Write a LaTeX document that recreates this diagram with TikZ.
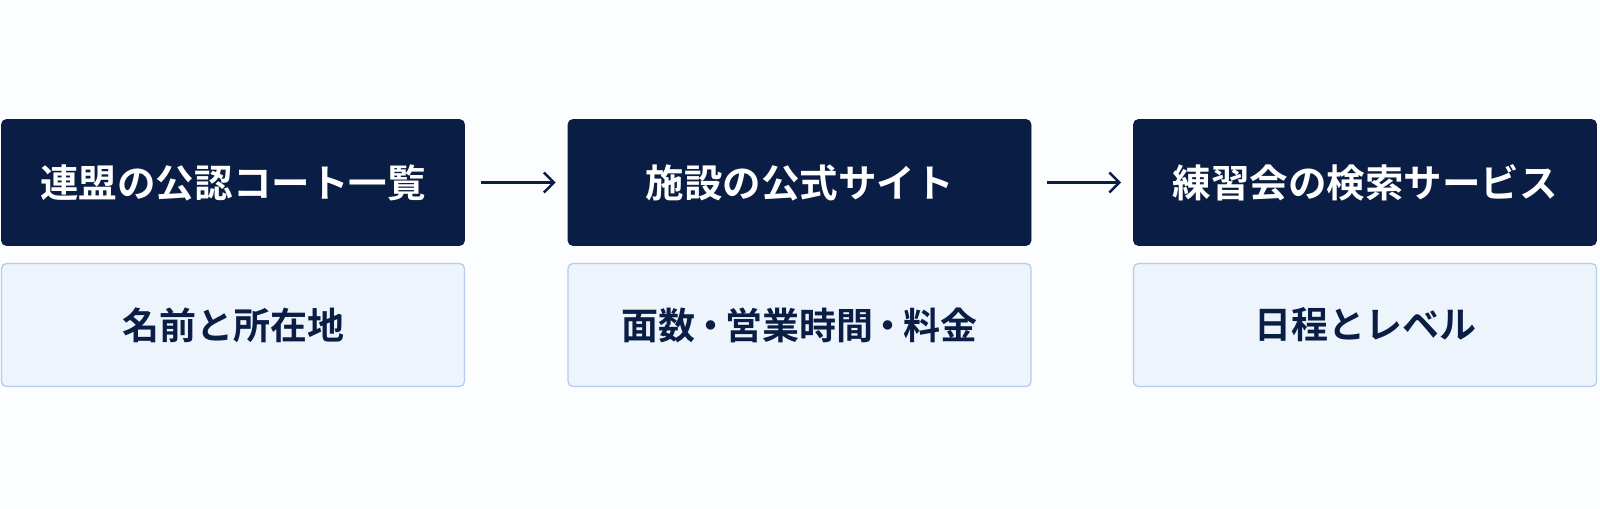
\documentclass[tikz,border=0pt]{standalone}
\usepackage{fontspec}
\newfontfamily\cjk{Noto Sans CJK JP}[BoldFont={Noto Sans CJK JP Bold}]
\usetikzlibrary{arrows.meta}
\definecolor{navy}{HTML}{0A1E45}
\definecolor{lightfill}{HTML}{EEF4FB}
\definecolor{lightborder}{HTML}{B4CDEA}
\definecolor{bg}{HTML}{FCFDFE}
\newcommand{\nakaguro}{\kern-3.7bp・\kern-3.7bp}
\begin{document}
\begin{tikzpicture}[x=1bp,y=-1bp,
  titlebox/.style={draw=navy,fill=navy,rounded corners=5bp,line width=0.8bp,
    minimum width=463bp,minimum height=126bp,inner sep=0pt,
    text=white,font=\cjk\bfseries\fontsize{38.5bp}{46bp}\selectfont},
  detailbox/.style={draw=lightborder,fill=lightfill,rounded corners=5bp,line width=1.3bp,
    minimum width=463bp,minimum height=123bp,inner sep=0pt,
    text=navy,font=\cjk\bfseries\fontsize{37bp}{44bp}\selectfont},
  flow/.style={draw=navy,line width=2.5bp,-{Straight Barb[length=10bp,width=20bp,line width=2.5bp]},
    shorten <=16bp,shorten >=12bp}]
\useasboundingbox[fill=bg] (0,0) rectangle (1600,509);
\node[titlebox] (d1) at (233,182.5) {連盟の公認コート一覧};
\node[titlebox] (d2) at (799.5,182.5) {施設の公式サイト};
\node[titlebox] (d3) at (1365,182.5) {練習会の検索サービス};
\node[detailbox] (l1) at (233,325) {名前と所在地};
\node[detailbox] (l2) at (799.5,325) {面数\nakaguro 営業時間\nakaguro 料金};
\node[detailbox] (l3) at (1365,325) {日程とレベル};
\draw[flow] (d1.east) -- (d2.west);
\draw[flow] (d2.east) -- (d3.west);
\end{tikzpicture}
\end{document}
